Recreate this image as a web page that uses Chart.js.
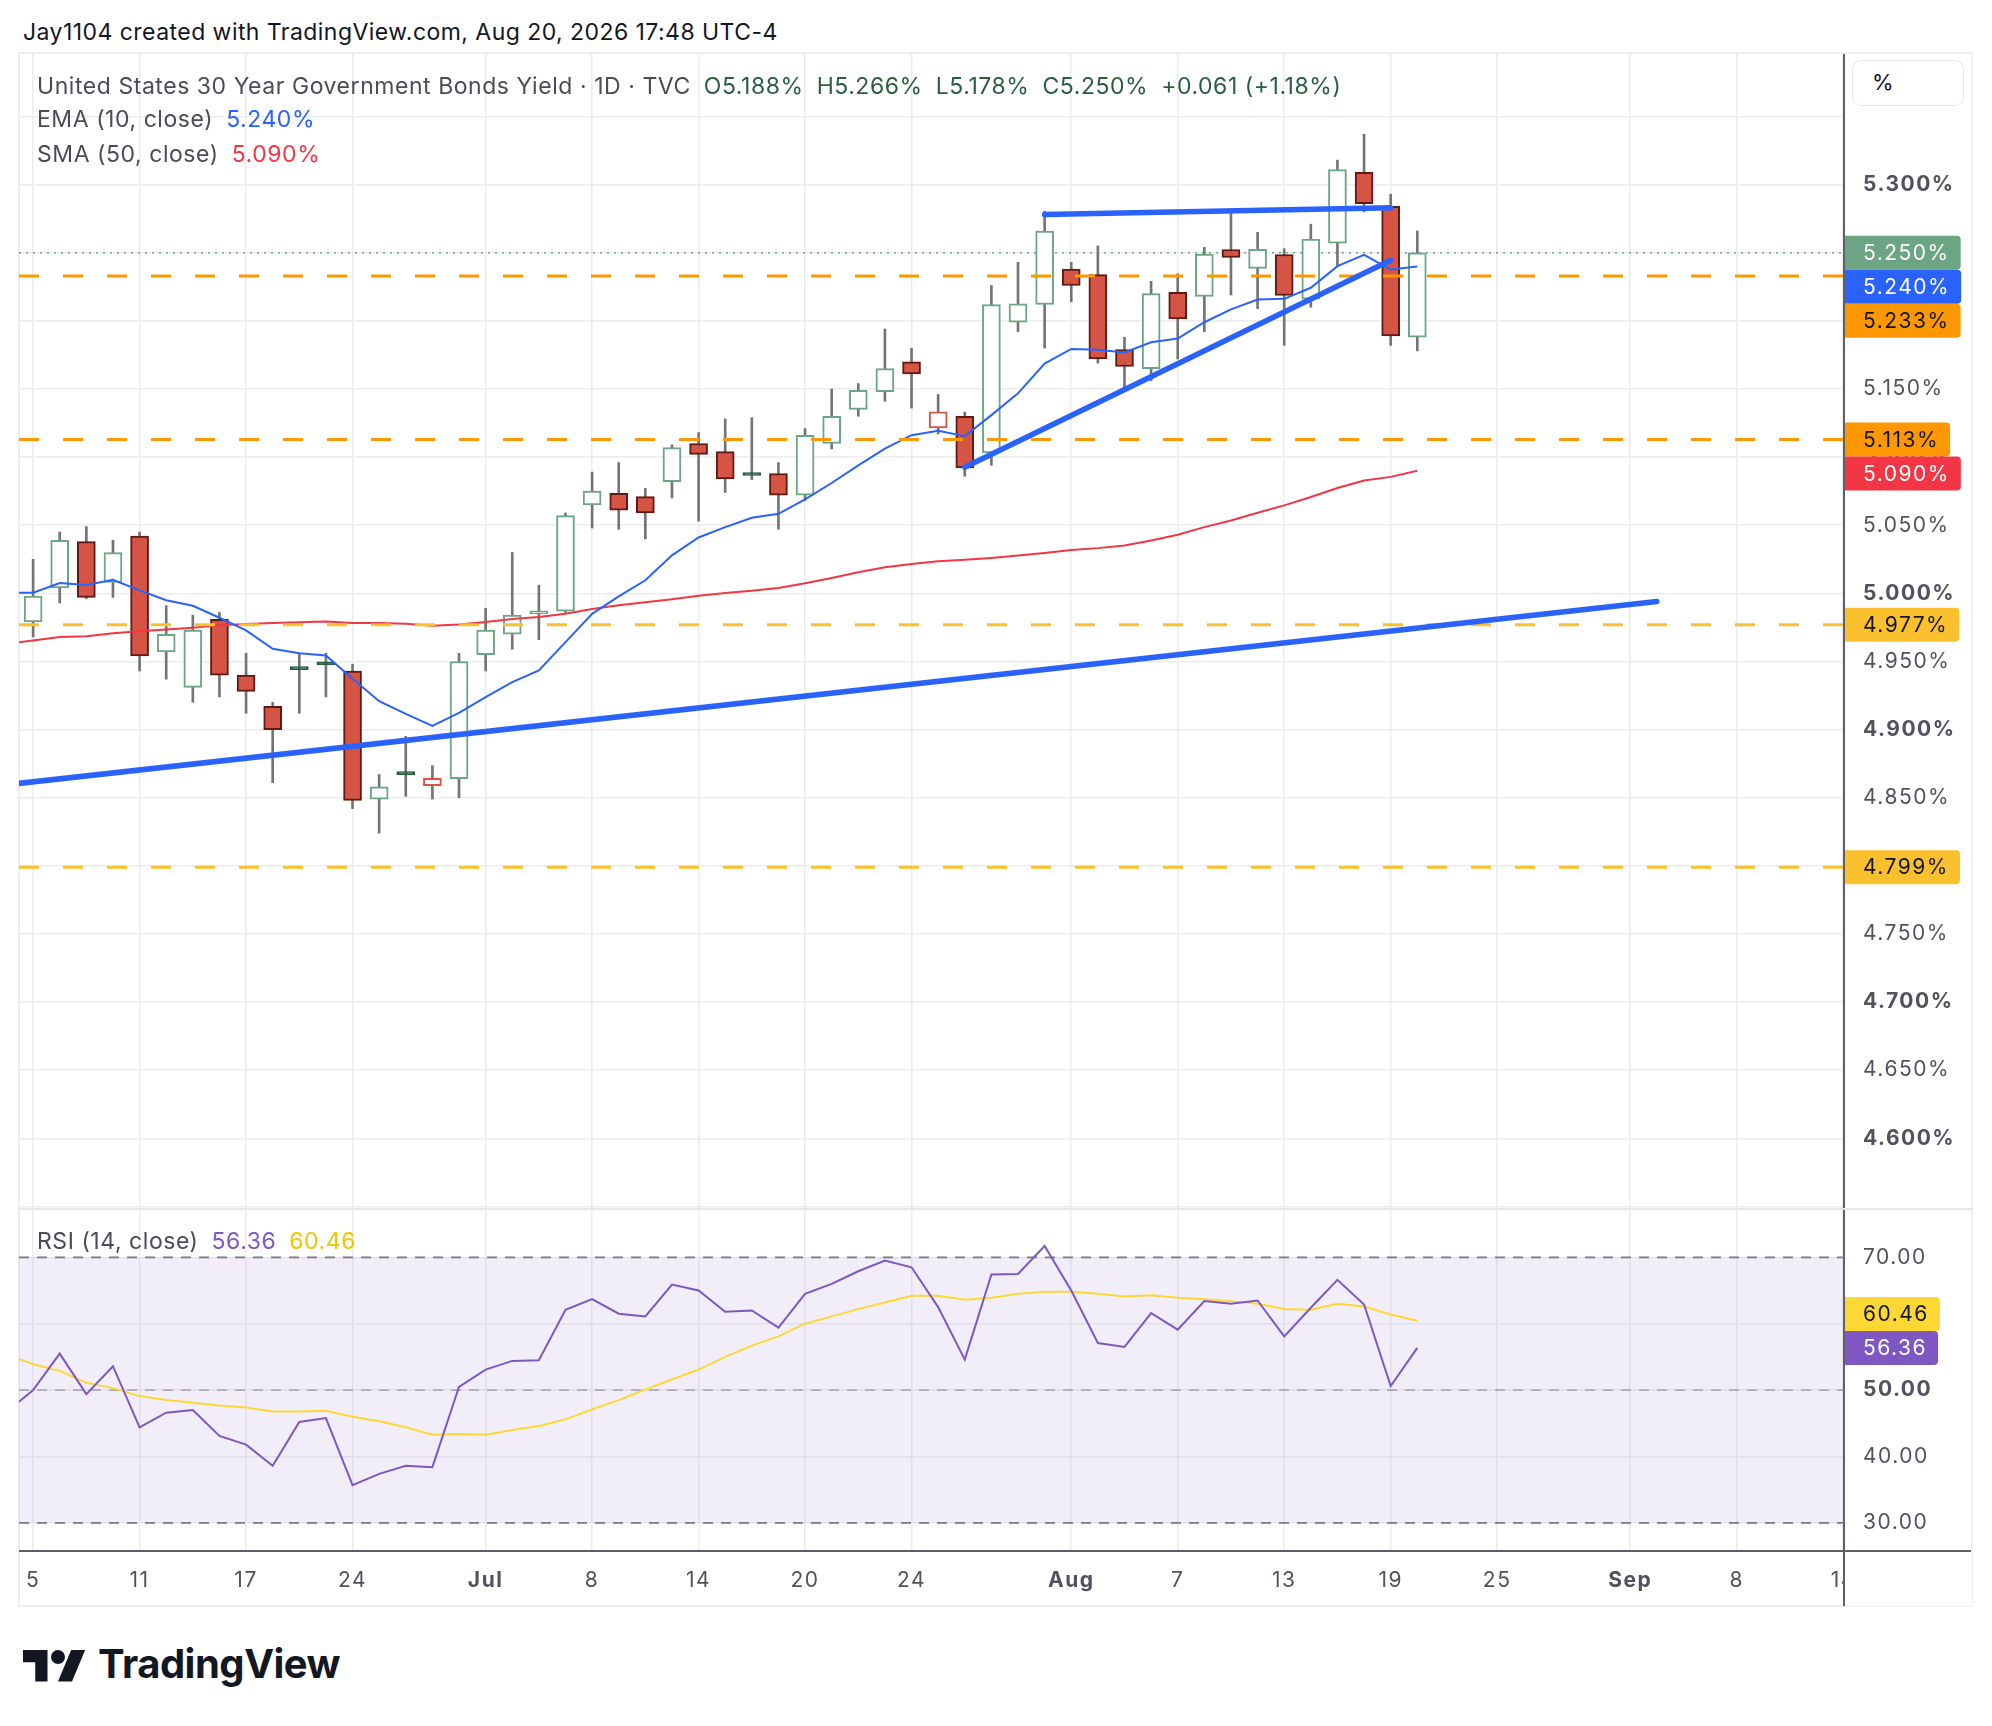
<!DOCTYPE html>
<html>
<head>
<meta charset="utf-8">
<script src="https://cdn.jsdelivr.net/npm/chart.js@4.4.1/dist/chart.umd.min.js"></script>
<style>
  html, body { margin: 0; padding: 0; background: #fff; }
  body { width: 1992px; height: 1726px; position: relative; overflow: hidden;
         font-family: Inter, "Noto Sans", sans-serif; }
  #credit { position: absolute; left: 23px; top: 15px; font-size: 23px; letter-spacing: 0.45px; line-height: 34px; color: #131722; }
  #frame { position: absolute; left: 18px; top: 52px; width: 1955px; height: 1555px;
           box-sizing: border-box; border: 2px solid #eeeef1; }
  #sep { position: absolute; left: 19px; top: 1208px; width: 1953px; height: 2px; background: #e6e6ea; }
  canvas { position: absolute; }
  #pricePane { left: 19px; top: 54px; }
  #rsiPane { left: 19px; top: 1210px; }
  .lg { position: absolute; left: 37px; font-size: 23px; letter-spacing: 0.55px; line-height: 34px; color: #4a4d56; white-space: pre; }
  .lg span + span { margin-left: 13px; }
  #unit { position: absolute; left: 1852px; top: 60px; width: 112px; height: 46px; box-sizing: border-box;
          border: 1.5px solid #e6e6ea; border-radius: 9px; font-size: 22px; line-height: 43px;
          padding-left: 19px; color: #131722; background: #fff; }
  #logo { position: absolute; left: 23px; top: 1643px; }
  #brand { position: absolute; left: 98px; top: 1639px; font-size: 40px; font-weight: 700; line-height: 50px;
           color: #131722; letter-spacing: -0.5px; }
</style>
</head>
<body>
<div id="credit">Jay1104 created with TradingView.com, Aug 20, 2026 17:48 UTC-4</div>
<div id="frame"></div>
<canvas id="pricePane" width="1953" height="1155"></canvas>
<div id="sep"></div>
<canvas id="rsiPane" width="1953" height="396"></canvas>
<div class="lg" id="lgMain" style="top:69px"></div>
<div class="lg" id="lgEma" style="top:102px"></div>
<div class="lg" id="lgSma" style="top:137px"></div>
<div class="lg" id="lgRsi" style="top:1224px"></div>
<div id="unit">%</div>
<svg id="logo" width="63" height="49" viewBox="0 0 36 28">
  <path d="M14 22H7V11H0V4h14v18z" fill="#131722"/>
  <circle cx="20" cy="8" r="4" fill="#131722"/>
  <path d="M28 22h-8l7.5-18h8L28 22z" fill="#131722"/>
</svg>
<div id="brand">TradingView</div>

<script>
// trading sessions (the first one is only partly in view, the later ones are empty future space)
const sessions = [
  '2026-06-04','2026-06-05','2026-06-08','2026-06-09','2026-06-10','2026-06-11','2026-06-12','2026-06-15',
  '2026-06-16','2026-06-17','2026-06-18','2026-06-22','2026-06-23','2026-06-24','2026-06-25','2026-06-26',
  '2026-06-29','2026-06-30','2026-07-01','2026-07-02','2026-07-06','2026-07-07','2026-07-08','2026-07-09',
  '2026-07-10','2026-07-13','2026-07-14','2026-07-15','2026-07-16','2026-07-17','2026-07-20','2026-07-21',
  '2026-07-22','2026-07-23','2026-07-24','2026-07-27','2026-07-28','2026-07-29','2026-07-30','2026-07-31',
  '2026-08-03','2026-08-04','2026-08-05','2026-08-06','2026-08-07','2026-08-10','2026-08-11','2026-08-12',
  '2026-08-13','2026-08-14','2026-08-17','2026-08-18','2026-08-19','2026-08-20','2026-08-21','2026-08-24',
  '2026-08-25','2026-08-26','2026-08-27','2026-08-28','2026-08-31','2026-09-01','2026-09-02','2026-09-03',
  '2026-09-04','2026-09-08','2026-09-09','2026-09-10','2026-09-11','2026-09-14','2026-09-15'
];
const firstBar = '2026-06-05';

const tickDates = ['2026-06-05','2026-06-11','2026-06-17','2026-06-24','2026-07-01','2026-07-08','2026-07-14',
  '2026-07-20','2026-07-24','2026-08-03','2026-08-07','2026-08-13','2026-08-19','2026-08-25','2026-09-01',
  '2026-09-08','2026-09-14'];
const tickLabels = ['5','11','17','24','Jul','8','14','20','24','Aug','7','13','19','25','Sep','8','14'];
const monthLabels = ['Jul','Aug','Sep'];

// OHLC, from Jun 4 to Aug 20 (Jun 4 is off screen)
const open = [null,
  4.979, 5.004, 5.038, 5.008, 5.042, 4.957, 4.931, 4.981, 4.940, 4.917,
  4.9450, 4.9493, 4.943, 4.849, 4.8680, 4.8588, 4.864, 4.955, 4.970, 4.985,
  4.987, 5.065, 5.0735, 5.071, 5.082, 5.110, 5.104, 5.0875, 5.088, 5.072,
  5.110, 5.135, 5.148, 5.170, 5.1215, 5.130, 5.103, 5.199, 5.212, 5.238,
  5.234, 5.179, 5.165, 5.221, 5.218, 5.2524, 5.2385, 5.2487, 5.216, 5.257,
  5.309, 5.284, 5.188];
const high = [null,
  5.025, 5.045, 5.049, 5.039, 5.045, 4.991, 4.984, 4.986, 4.956, 4.920,
  4.956, 4.956, 4.948, 4.867, 4.895, 4.8735, 4.956, 4.989, 5.030, 5.006,
  5.059, 5.089, 5.096, 5.077, 5.109, 5.118, 5.128, 5.129, 5.096, 5.121,
  5.150, 5.154, 5.194, 5.180, 5.146, 5.133, 5.226, 5.243, 5.2805, 5.243,
  5.255, 5.188, 5.229, 5.2345, 5.254, 5.279, 5.265, 5.253, 5.271, 5.318,
  5.337, 5.293, 5.266];
const low = [null,
  4.968, 4.993, 4.996, 4.997, 4.943, 4.937, 4.920, 4.924, 4.912, 4.861,
  4.912, 4.924, 4.842, 4.824, 4.851, 4.849, 4.850, 4.943, 4.959, 4.966,
  4.986, 5.048, 5.047, 5.040, 5.070, 5.053, 5.074, 5.0835, 5.047, 5.068,
  5.106, 5.130, 5.141, 5.136, 5.117, 5.086, 5.094, 5.192, 5.180, 5.214,
  5.169, 5.151, 5.156, 5.172, 5.192, 5.219, 5.209, 5.182, 5.210, 5.240,
  5.280, 5.182, 5.178];
const close = [null,
  4.998, 5.039, 4.997, 5.030, 4.954, 4.970, 4.973, 4.940, 4.928, 4.900,
  4.9440, 4.9475, 4.848, 4.858, 4.8670, 4.8642, 4.950, 4.973, 4.984, 4.9865,
  5.057, 5.075, 5.061, 5.059, 5.107, 5.102, 5.084, 5.0865, 5.072, 5.116,
  5.130, 5.149, 5.165, 5.161, 5.1333, 5.092, 5.212, 5.2125, 5.266, 5.226,
  5.172, 5.1665, 5.220, 5.2015, 5.249, 5.2465, 5.2526, 5.2186, 5.260, 5.311,
  5.286, 5.189, 5.250];

const ema10 = [5.0005,
  5.0005, 5.0076, 5.0061, 5.0100, 5.0022, 4.9949, 4.9909, 4.9821, 4.9728, 4.9593,
  4.9561, 4.9544, 4.9373, 4.9208, 4.9115, 4.9027, 4.9122, 4.9238, 4.9348, 4.9434,
  4.9642, 4.9850, 4.9978, 5.0096, 5.0279, 5.0410, 5.0486, 5.0555, 5.0584, 5.0690,
  5.0810, 5.0940, 5.1063, 5.1161, 5.1193, 5.1154, 5.1308, 5.1468, 5.1687, 5.1794,
  5.1788, 5.1768, 5.1843, 5.1870, 5.1990, 5.2085, 5.2157, 5.2162, 5.2243, 5.2402,
  5.2485, 5.2377, 5.2400];
const sma50 = [4.9630,
  4.9654, 4.9679, 4.9686, 4.9708, 4.9721, 4.9735, 4.9748, 4.9765, 4.9775, 4.9782,
  4.9787, 4.9794, 4.9782, 4.9782, 4.9777, 4.9762, 4.9772, 4.9789, 4.9811, 4.9826,
  4.9850, 4.9885, 4.9912, 4.9934, 4.9956, 4.9983, 5.0003, 5.0020, 5.0040, 5.0074,
  5.0113, 5.0155, 5.0192, 5.0216, 5.0236, 5.0246, 5.0260, 5.0278, 5.0297, 5.0319,
  5.0332, 5.0351, 5.0388, 5.0430, 5.0486, 5.0535, 5.0592, 5.0646, 5.0707, 5.0773,
  5.0829, 5.0855, 5.0900];

const rsi14 = [46.7,
  50.0, 55.5, 49.4, 53.6, 44.4, 46.6, 47.0, 43.1, 41.8, 38.6,
  45.2, 45.8, 35.7, 37.4, 38.6, 38.4, 50.5, 53.1, 54.4, 54.5,
  62.1, 63.7, 61.5, 61.1, 65.9, 65.0, 61.8, 62.0, 59.4, 64.5,
  66.0, 67.9, 69.5, 68.5, 62.5, 54.6, 67.4, 67.5, 71.7, 65.0,
  57.1, 56.5, 61.6, 59.1, 63.4, 63.0, 63.5, 58.1, 62.4, 66.6,
  62.9, 50.6, 56.36];
const rsiMa = [55.4,
  53.9, 52.9, 51.1, 50.3, 49.1, 48.5, 48.1, 47.7, 47.4, 46.8,
  46.8, 46.9, 46.0, 45.3, 44.4, 43.3, 43.4, 43.3, 44.0, 44.6,
  45.6, 47.1, 48.5, 50.1, 51.6, 53.1, 55.0, 56.7, 58.1, 60.0,
  61.1, 62.2, 63.2, 64.2, 64.2, 63.6, 63.9, 64.5, 64.8, 64.8,
  64.5, 64.1, 64.3, 63.9, 63.7, 63.4, 63.0, 62.2, 62.1, 63.0,
  62.6, 61.4, 60.46];

// horizontal levels drawn on the chart
const orangeLevels = [5.233, 5.113];
const yellowLevels = [4.977, 4.799];

// trend lines: [date, value] anchors
const trendLong = [['2026-06-04', 4.8595], ['2026-09-02', 4.994]];
const trendRise = [['2026-07-28', 5.0925], ['2026-08-19', 5.2445]];
const trendTop = [['2026-07-31', 5.278], ['2026-08-19', 5.283]];

const priceTicks = [4.55, 4.60, 4.65, 4.70, 4.75, 4.80, 4.85, 4.90, 4.95, 5.00, 5.05, 5.10, 5.15, 5.20, 5.25, 5.30, 5.35];
const rsiTicks = [30, 40, 50, 60, 70];
const rsiBands = [70, 50, 30];

// ---- view / style ----
const xMin = -0.53, xMax = 68.03;
const yMin = 4.5481, yMax = 5.3959;
const rMin = 25.78, rMax = 77.12;
const FONT = 'Inter, "Noto Sans", sans-serif';
const gridColor = '#ececef';
const axisLine = '#5d606b';
const upColor = '#6ba583', downColor = '#d65444', downEdge = '#5e1a14', flatDark = '#255b3c';
const wickColor = '#747474';

const base = sessions.indexOf(firstBar);
const posOf = i => i - base;
const posOfDate = d => sessions.indexOf(d) - base;
const tickPos = tickDates.map(posOfDate);
const last = close.length - 1;

function candleStyle(i) {
  const o = open[i], c = close[i], prev = close[i - 1];
  const rising = prev == null || c >= prev;
  if (c >= o) return { fill: '#ffffff', line: rising ? upColor : downColor };
  return rising ? { fill: flatDark, line: flatDark } : { fill: downColor, line: downEdge };
}

const bodyData = [], wickData = [];
open.forEach((o, i) => {
  if (o == null) return;
  wickData.push({ x: posOf(i), y: [low[i], high[i]] });
  bodyData.push({ x: posOf(i), y: [o, close[i]], i: i });
});

const series = vals => vals.map((v, i) => ({ x: posOf(i), y: v }));
const hline = (v, color, dash, width, order) => ({
  type: 'line', data: [{ x: xMin, y: v }, { x: xMax + 1, y: v }],
  borderColor: color, borderWidth: width, borderDash: dash, pointRadius: 0, order: order
});
const trend = anchors => ({
  type: 'line', data: anchors.map(a => ({ x: posOfDate(a[0]), y: a[1] })),
  borderColor: '#2962ff', borderWidth: 5.5, borderCapStyle: 'round', pointRadius: 0, order: 0
});

// keep the plot area exactly where the panes are
const noPad = s => { s.paddingTop = 0; s.paddingBottom = 0; s.paddingLeft = 0; s.paddingRight = 0; };

// value tags on the right axis
const tagPlugin = {
  id: 'tags',
  beforeDraw(chart) { chart.ctx.letterSpacing = '1.5px'; },
  afterDraw(chart, args, opts) {
    const { ctx, chartArea } = chart;
    const ys = chart.scales.y;
    const h = 34;
    const items = opts.items.map(t => Object.assign({}, t, { cy: ys.getPixelForValue(t.value) }));
    const ordered = items.filter(t => t.fixed)
      .concat(items.filter(t => !t.fixed).sort((a, b) => b.value - a.value));
    const placed = [];
    ordered.forEach(t => {
      for (let guard = 0; guard < 20; guard++) {
        const hit = placed.find(p => Math.abs(p.cy - t.cy) < h - 0.5);
        if (!hit) break;
        t.cy = t.value > hit.value ? hit.cy - h : hit.cy + h;
      }
      placed.push(t);
    });
    ctx.save();
    ctx.font = '400 21px ' + FONT;
    ctx.letterSpacing = '1.5px';
    ctx.textBaseline = 'middle';
    placed.forEach(t => {
      const w = ctx.measureText(t.text).width;
      const x0 = chartArea.right + 1;
      ctx.fillStyle = t.bg;
      ctx.beginPath();
      ctx.roundRect(x0, t.cy - h / 2, 19 + w + 10, h, [0, 4, 4, 0]);
      ctx.fill();
      ctx.fillStyle = t.fg;
      ctx.fillText(t.text, x0 + 18, t.cy + 1);
    });
    ctx.restore();
  }
};

// purple RSI band and clean time-axis corner
const rsiPlugin = {
  id: 'rsiExtras',
  beforeDatasetsDraw(chart) {
    const { ctx, chartArea } = chart;
    const ys = chart.scales.y;
    const top = ys.getPixelForValue(70), bot = ys.getPixelForValue(30);
    ctx.save();
    ctx.fillStyle = 'rgba(126, 87, 194, 0.1)';
    ctx.fillRect(chartArea.left, top, chartArea.right - chartArea.left, bot - top);
    ctx.restore();
  },
  afterDraw(chart) {
    const { ctx, chartArea, width, height } = chart;
    ctx.save();
    ctx.fillStyle = '#ffffff';
    ctx.fillRect(chartArea.right + 1, chartArea.bottom + 1, width - chartArea.right - 1, height - chartArea.bottom - 1);
    ctx.strokeStyle = axisLine;
    ctx.lineWidth = 2;
    ctx.beginPath();
    ctx.moveTo(chartArea.right, chartArea.bottom);
    ctx.lineTo(chartArea.right, height);
    ctx.moveTo(chartArea.right, chartArea.bottom);
    ctx.lineTo(width - 1, chartArea.bottom);
    ctx.stroke();
    ctx.restore();
  }
};

const xGrid = () => ({ color: gridColor, lineWidth: 1.5, drawTicks: false, offset: false });

const priceChart = new Chart(document.getElementById('pricePane'), {
  type: 'bar',
  data: {
    datasets: [
      trend(trendLong), trend(trendRise), trend(trendTop),
      hline(orangeLevels[0], '#ff9800', [20, 24], 3, 1),
      hline(orangeLevels[1], '#ff9800', [20, 24], 3, 1),
      hline(yellowLevels[0], '#fbc02d', [20, 24], 3, 1),
      hline(yellowLevels[1], '#fbc02d', [20, 24], 3, 1),
      { type: 'line', data: series(ema10), borderColor: '#2962ff', borderWidth: 2, pointRadius: 0, order: 2 },
      { type: 'line', data: series(sma50), borderColor: '#f23645', borderWidth: 2, pointRadius: 0, order: 2 },
      {
        type: 'bar', data: bodyData, order: 3, grouped: false, barThickness: 18, minBarLength: 3,
        borderWidth: 2, borderSkipped: false,
        backgroundColor: c => c.raw ? candleStyle(c.raw.i).fill : '#fff',
        borderColor: c => c.raw ? candleStyle(c.raw.i).line : upColor
      },
      { type: 'bar', data: wickData, order: 4, grouped: false, barThickness: 2, backgroundColor: wickColor, borderWidth: 0 },
      hline(close[last], upColor, [2, 5], 1.5, 5)
    ]
  },
  options: {
    responsive: false, devicePixelRatio: 1, animation: false, events: [],
    layout: { padding: 0 },
    plugins: {
      legend: { display: false }, tooltip: { enabled: false },
      tags: {
        items: [
          { value: close[last], text: close[last].toFixed(3) + '%', bg: upColor, fg: '#ffffff', fixed: true },
          { value: ema10[last], text: ema10[last].toFixed(3) + '%', bg: '#2962ff', fg: '#ffffff' },
          { value: sma50[last], text: sma50[last].toFixed(3) + '%', bg: '#f23645', fg: '#ffffff' }
        ].concat(orangeLevels.map(v => ({ value: v, text: v.toFixed(3) + '%', bg: '#ff9800', fg: '#131722' })))
         .concat(yellowLevels.map(v => ({ value: v, text: v.toFixed(3) + '%', bg: '#fbc02d', fg: '#131722' })))
      }
    },
    scales: {
      x: {
        type: 'linear', min: xMin, max: xMax, offset: false,
        afterBuildTicks: s => { s.ticks = tickPos.map(v => ({ value: v })); },
        ticks: { display: false },
        grid: xGrid(), border: { display: false },
        afterFit: s => { s.height = 0; noPad(s); }
      },
      y: {
        position: 'right', min: yMin, max: yMax,
        afterBuildTicks: s => { s.ticks = priceTicks.map(v => ({ value: v })); },
        ticks: {
          padding: 19, color: '#50535e', autoSkip: false,
          font: c => ({ family: FONT, size: 21, weight: c.tick && Math.round(c.tick.value * 100) % 10 === 0 ? '700' : '400' }),
          callback: v => (v < 4.575 || v > 5.325) ? '' : v.toFixed(3) + '%'
        },
        grid: { color: gridColor, lineWidth: 1.5, drawTicks: false },
        border: { display: true, color: axisLine, width: 2 },
        afterFit: s => { s.width = 128; noPad(s); }
      }
    }
  },
  plugins: [tagPlugin]
});

const rsiChart = new Chart(document.getElementById('rsiPane'), {
  type: 'line',
  data: {
    datasets: [
      { data: series(rsi14), borderColor: '#7e57c2', borderWidth: 2, pointRadius: 0, order: 0 },
      { data: series(rsiMa), borderColor: '#fdd835', borderWidth: 2, pointRadius: 0, order: 1 }
    ].concat(rsiBands.map(v => hline(v, v === 50 ? 'rgba(120,123,134,0.55)' : '#787b86', [10, 8], 1.8, 2)))
  },
  options: {
    responsive: false, devicePixelRatio: 1, animation: false, events: [],
    layout: { padding: 0 },
    plugins: {
      legend: { display: false }, tooltip: { enabled: false },
      tags: {
        items: [
          { value: rsi14[last], text: rsi14[last].toFixed(2), bg: '#7e57c2', fg: '#ffffff', fixed: true },
          { value: rsiMa[last], text: rsiMa[last].toFixed(2), bg: '#fdd835', fg: '#131722' }
        ]
      }
    },
    scales: {
      x: {
        type: 'linear', min: xMin, max: xMax, offset: false,
        afterBuildTicks: s => { s.ticks = tickPos.map(v => ({ value: v })); },
        ticks: {
          autoSkip: false, maxRotation: 0, padding: 17, color: '#50535e',
          font: c => ({ family: FONT, size: 21, weight: c.tick && monthLabels.includes(tickLabels[tickPos.indexOf(c.tick.value)]) ? '700' : '400' }),
          callback: v => tickLabels[tickPos.indexOf(v)] || ''
        },
        grid: xGrid(),
        border: { display: true, color: axisLine, width: 2 },
        afterFit: s => { s.height = 55; noPad(s); }
      },
      y: {
        position: 'right', min: rMin, max: rMax,
        afterBuildTicks: s => { s.ticks = rsiTicks.map(v => ({ value: v })); },
        ticks: {
          padding: 19, color: '#50535e', autoSkip: false,
          font: c => ({ family: FONT, size: 21, weight: c.tick && c.tick.value === 50 ? '700' : '400' }),
          callback: v => v.toFixed(2)
        },
        grid: { color: gridColor, lineWidth: 1.5, drawTicks: false },
        border: { display: true, color: axisLine, width: 2 },
        afterFit: s => { s.width = 128; noPad(s); }
      }
    }
  },
  plugins: [tagPlugin, rsiPlugin]
});

// legends built from the data
const prevClose = close[last - 1];
const chg = close[last] - prevClose;
const sign = chg >= 0 ? '+' : '';
const green = '#2b5e3f';
document.getElementById('lgMain').innerHTML =
  '<span>United States 30 Year Government Bonds Yield · 1D · TVC</span>' +
  ['O' + open[last].toFixed(3) + '%', 'H' + high[last].toFixed(3) + '%', 'L' + low[last].toFixed(3) + '%',
   'C' + close[last].toFixed(3) + '%',
   sign + chg.toFixed(3) + ' (' + sign + (chg / prevClose * 100).toFixed(2) + '%)']
    .map(t => '<span style="color:' + green + '">' + t + '</span>').join('');
document.getElementById('lgEma').innerHTML =
  '<span>EMA (10, close)</span><span style="color:#2962ff">' + ema10[last].toFixed(3) + '%</span>';
document.getElementById('lgSma').innerHTML =
  '<span>SMA (50, close)</span><span style="color:#f23645">' + sma50[last].toFixed(3) + '%</span>';
document.getElementById('lgRsi').innerHTML =
  '<span>RSI (14, close)</span><span style="color:#7e57c2">' + rsi14[last].toFixed(2) +
  '</span><span style="color:#f5c400">' + rsiMa[last].toFixed(2) + '</span>';
</script>
</body>
</html>
